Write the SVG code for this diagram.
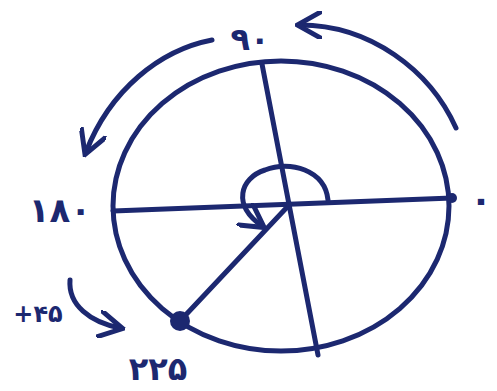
<svg xmlns="http://www.w3.org/2000/svg" width="497" height="391" viewBox="0 0 497 391">
<defs>
<style>
.s{fill:none;stroke:#1c2870;stroke-width:5;stroke-linecap:round;stroke-linejoin:round}
.t{font-family:"DejaVu Sans",sans-serif;fill:#1c2870;font-weight:bold}
</style>
<marker id="ah" viewBox="0 0 10 10" refX="8" refY="5" markerWidth="5.5" markerHeight="5.5" orient="auto" markerUnits="strokeWidth">
<path d="M0,0 L9,5 L0,10" fill="none" stroke="#1c2870" stroke-width="1.8"/>
</marker>
</defs>
<rect width="497" height="391" fill="#fff"/>
<g id="circle">
<ellipse class="s" cx="281" cy="206" rx="168" ry="145"/>
</g>
<g id="connectors">
<path class="s" d="M113,211 L452,198"/>
<path class="s" d="M262,64 L318,355"/>
<path class="s" d="M290,204 L180,321"/>
<path class="s" d="M328,200 C325,170 290,160 265,170 C240,178 232,205 262,226" marker-end="url(#ah)"/>
<path class="s" d="M456,128 C430,70 370,25 300,25" marker-end="url(#ah)"/>
<path class="s" d="M212,40 C160,50 110,90 86,152" marker-end="url(#ah)"/>
<path class="s" d="M70,280 C68,305 90,322 120,328" marker-end="url(#ah)"/>
</g>
<g id="dots">
<circle cx="452" cy="198" r="5" fill="#1c2870"/>
<circle cx="180" cy="321" r="10" fill="#1c2870"/>
</g>
<g id="labels">
<text class="t" x="481" y="212" font-size="36" text-anchor="middle">۰</text>
<text class="t" x="250" y="50" font-size="32" text-anchor="middle">۹۰</text>
<text class="t" x="60" y="222" font-size="34" text-anchor="middle">۱۸۰</text>
<text class="t" x="158" y="380" font-size="32" text-anchor="middle">۲۲۵</text>
<text class="t" x="38" y="322" font-size="24" text-anchor="middle">+۴۵</text>
</g>
</svg>
